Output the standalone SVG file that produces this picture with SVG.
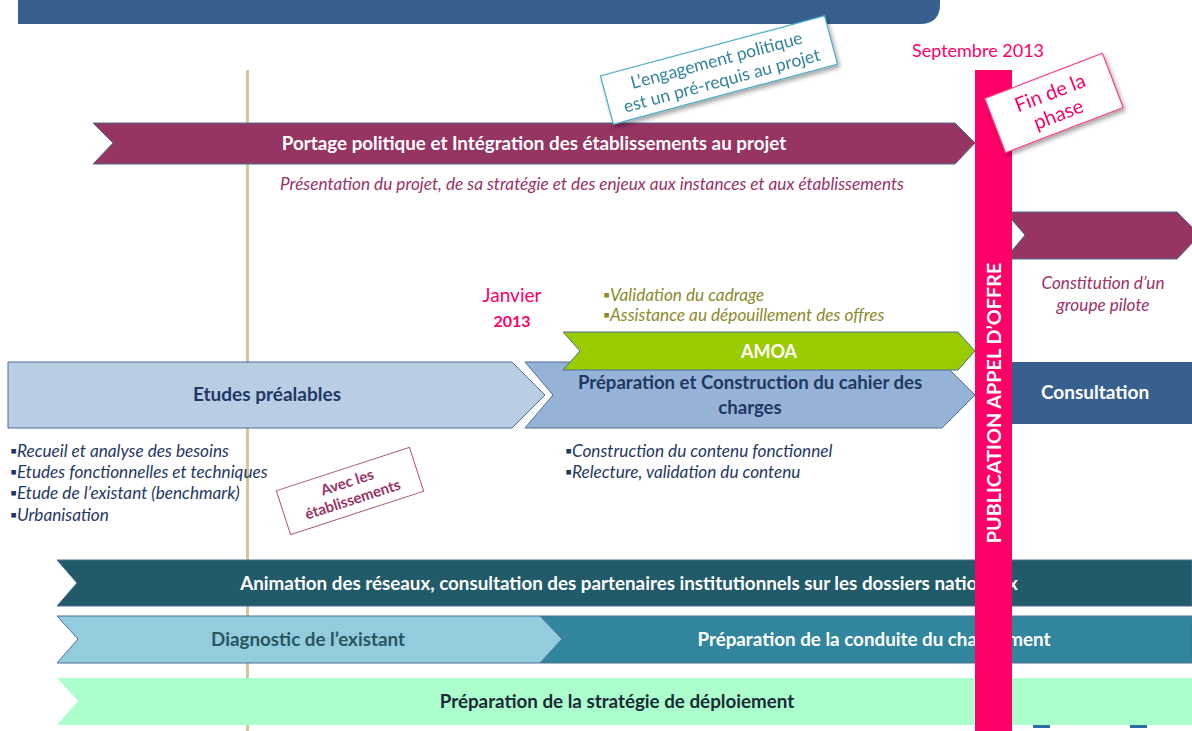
<svg xmlns="http://www.w3.org/2000/svg" width="1192" height="731" viewBox="0 0 1192 731">
<defs>
<filter id="sh" x="-20%" y="-20%" width="150%" height="160%">
<feDropShadow dx="2" dy="3" stdDeviation="2" flood-color="#000" flood-opacity="0.35"/>
</filter>
<style>
text{font-family:Lato,"Open Sans","Liberation Sans",sans-serif}
.b{font-weight:bold}
.it{font-style:italic}
.w{fill:#FFFFFF}
.nv{fill:#1F3864}
.pu{fill:#993366}
.pk{fill:#FF0066}
.ol{fill:#8C8A2A}
.chev{stroke:#4F6D96;stroke-width:1}
.c{text-anchor:middle}
.bt{font-size:18.8px}
.nt{font-size:17.2px}
</style>
</defs>
<rect width="1192" height="731" fill="#FFFFFF"/>
<g id="banner"><path d="M18 0 H940 V4 Q940 24 920 24 H18 Z" fill="#37608F"/></g>
<g id="timeline-axis"><rect x="246" y="70" width="3" height="661" fill="#CFC6A2"/></g>

<g id="portage">
<path class="chev" d="M93 123 H955 L975 143 L955 164 H93 L113 143 Z" fill="#963462"/>
<text class="b w c bt" x="534" y="150">Portage politique et Intégration des établissements au projet</text>
<text class="it pu c nt" x="592" y="190">Présentation du projet, de sa stratégie et des enjeux aux instances et aux établissements</text>
</g>

<g id="note-engagement" filter="url(#sh)">
<g transform="rotate(-15 719 70)">
<rect x="603" y="45" width="232" height="50" fill="#FFFFFF" stroke="#4BACC6" stroke-width="1.2"/>
<text class="c" x="719" y="66" font-size="17.5" fill="#31849B">L’engagement politique</text>
<text class="c" x="719" y="87" font-size="17.5" fill="#31849B">est un pré-requis au projet</text>
</g>
</g>

<g id="pilote">
<path class="chev" d="M1005 212 H1177 L1200 235 L1177 259 H1005 L1025 235 Z" fill="#963462"/>
<text class="it pu c nt" x="1103" y="289">Constitution d’un</text>
<text class="it pu c nt" x="1103" y="311">groupe pilote</text>
</g>

<g id="janvier">
<text class="pk c" x="512" y="302" font-size="19">Janvier</text>
<text class="pk c b" x="512" y="327" font-size="16">2013</text>
</g>

<g id="amoa-notes">
<text class="it ol nt" x="603" y="301">▪Validation du cadrage</text>
<text class="it ol nt" x="603" y="321">▪Assistance au dépouillement des offres</text>
</g>

<g id="etudes">
<path class="chev" d="M8 362 H512 L545 395 L512 428 H8 Z" fill="#B9CDE5"/>
<text class="b nv c" x="267" y="401" font-size="19">Etudes préalables</text>
</g>

<g id="preparation-cdc">
<path class="chev" d="M525 362 H942 L975 395 L942 428 H525 L553 395 Z" fill="#95B3D7"/>
<text class="b nv c" x="750" y="389" font-size="18.6">Préparation et Construction du cahier des</text>
<text class="b nv c" x="750" y="414" font-size="18.6">charges</text>
</g>

<g id="amoa">
<path class="chev" d="M563 332 H958 L975 351 L958 370 H563 L580 351 Z" fill="#99CC00"/>
<text class="b w c" x="769" y="358" font-size="18">AMOA</text>
</g>

<g id="etudes-notes">
<text class="it nv nt" x="10" y="457">▪Recueil  et analyse des besoins</text>
<text class="it nv nt" x="10" y="478">▪Etudes fonctionnelles et techniques</text>
<text class="it nv nt" x="10" y="499">▪Etude de l’existant (benchmark)</text>
<text class="it nv nt" x="10" y="521">▪Urbanisation</text>
</g>

<g id="cdc-notes">
<text class="it nv nt" x="565" y="457">▪Construction du contenu fonctionnel</text>
<text class="it nv nt" x="565" y="478">▪Relecture, validation du contenu</text>
</g>

<g id="note-etablissements">
<g transform="rotate(-18 350 491)">
<rect x="280" y="468" width="140" height="46" fill="#FFFFFF" stroke="#B0577F" stroke-width="1"/>
<text class="b pu c" x="350" y="487" font-size="15">Avec les</text>
<text class="b pu c" x="350" y="505" font-size="15">établissements</text>
</g>
</g>

<g id="consultation">
<rect x="1000" y="362" width="192" height="62" fill="#37608F"/>
<text class="b w c" x="1095" y="399" font-size="19">Consultation</text>
</g>

<g id="animation">
<path class="chev" d="M57 560 H1192 V606 H57 L77 583 Z" fill="#215A69"/>
<text class="b w c bt" x="629" y="590">Animation des réseaux, consultation des partenaires institutionnels sur les dossiers nationaux</text>
</g>

<g id="conduite">
<path class="chev" d="M540 616 H1192 V663 H540 L562 639 Z" fill="#31859C"/>
<text class="b w c bt" x="874" y="646">Préparation de la conduite du changement</text>
</g>

<g id="diagnostic">
<path class="chev" d="M57 616 H540 L562 639 L540 663 H57 L78 639 Z" fill="#93CDDD"/>
<text class="b c bt" x="308" y="646" fill="#2A5561">Diagnostic de l’existant</text>
</g>

<g id="strategie">
<path d="M57 678 H1192 V725 H57 L78 701 Z" fill="#AAFFCC"/>
<text class="b c bt" x="617" y="708" fill="#1B2A38">Préparation de la stratégie de déploiement</text>
<rect x="1033" y="725" width="17" height="3" fill="#2E6DA4"/>
<rect x="1130" y="725" width="17" height="3" fill="#2E6DA4"/>
</g>

<g id="publication">
<rect x="975" y="70" width="37" height="661" fill="#FF0066"/>
<text class="b w c" transform="translate(1000.5 403) rotate(-90)" x="0" y="0" font-size="19.8">PUBLICATION APPEL D’OFFRE</text>
<text class="pk c" x="978" y="57" font-size="18">Septembre 2013</text>
</g>

<g id="note-fin" filter="url(#sh)">
<g transform="rotate(-21 1054 103)">
<rect x="991" y="74" width="126" height="58" fill="#FFFFFF" stroke="#FF3C8A" stroke-width="1.2"/>
<text class="pk c" x="1054" y="99" font-size="20">Fin de la</text>
<text class="pk c" x="1054" y="122" font-size="20">phase</text>
</g>
</g>
</svg>
